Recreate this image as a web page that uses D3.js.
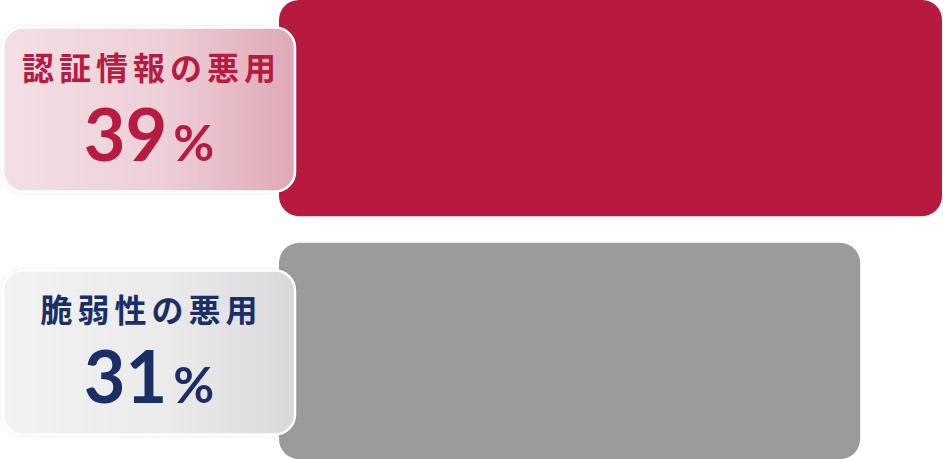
<!DOCTYPE html>
<html>
<head>
<meta charset="utf-8">
<script src="https://cdn.jsdelivr.net/npm/d3@7"></script>
<style>
	html, body { margin: 0; padding: 0; background: #fff; }
	svg { display: block; }
</style>
</head>
<body>
<div id="chart"></div>
<script>

// data
var categories= ["認証情報の悪用", "脆弱性の悪用"];
var values= [39, 31];
var value_labels= ["39", "31"];
var bar_colors= ["#b71a3e", "#9b9b9b"];
var text_colors= ["#b81a41", "#1b2e66"];
var box_grad= [["#f3e0e5", "#dfa8b6"], ["#f2f2f3", "#d9d9db"]];

function draw_chart() {

	var width= 943;
	var height= 459;

	var bar_left= 279;

	var svg= d3.select("#chart")
		.append("svg")
		.attr("width", width)
		.attr("height", height);

	var defs= svg.append("defs");

	box_grad.forEach(function(g, i) {
		var lg= defs.append("linearGradient")
			.attr("id", "grad" + i)
			.attr("x1", "0%").attr("x2", "100%")
			.attr("y1", "0%").attr("y2", "0%");
		lg.append("stop").attr("offset", "0%").attr("stop-color", g[0]);
		lg.append("stop").attr("offset", "55%").attr("stop-color", d3.interpolateRgb(g[0], g[1])(0.3));
		lg.append("stop").attr("offset", "100%").attr("stop-color", g[1]);
	});

	var shadow= defs.append("filter")
		.attr("id", "shadow")
		.attr("x", "-10%").attr("y", "-10%")
		.attr("width", "120%").attr("height", "120%");
	shadow.append("feDropShadow")
		.attr("dx", 0).attr("dy", 0)
		.attr("stdDeviation", 1.5)
		.attr("flood-color", "#000")
		.attr("flood-opacity", 0.12);

	// bars run from bar_left; the value scale puts 39 at the right edge
	var x= d3.scaleLinear()
		.domain([0, 39])
		.range([543, 942]);

	var y= d3.scaleBand()
		.domain(categories)
		.range([0, height])
		.paddingInner(0.11)
		.paddingOuter(0);

	svg.selectAll("rect.bar")
		.data(values)
		.enter()
		.append("rect")
			.attr("class", "bar")
			.attr("x", bar_left)
			.attr("y", function(d, i) { return y(categories[i]); })
			.attr("width", function(d) { return x(d)- bar_left; })
			.attr("height", y.bandwidth())
			.attr("rx", 20)
			.attr("fill", function(d, i) { return bar_colors[i]; });

	var box_w= 292;
	var box_h= 164;

	var label= svg.selectAll("g.label")
		.data(categories)
		.enter()
		.append("g")
			.attr("class", "label")
			.attr("transform", function(d) {
				return "translate(3," + (y(d)+ y.bandwidth()/ 2+ 1.5) + ")";
			});

	label.append("rect")
		.attr("x", 0)
		.attr("y", -box_h/ 2)
		.attr("width", box_w)
		.attr("height", box_h)
		.attr("rx", 20)
		.attr("fill", function(d, i) { return "url(#grad" + i + ")"; })
		.attr("stroke", "#fff")
		.attr("stroke-width", 2.5)
		.attr("filter", "url(#shadow)");

	label.append("text")
		.attr("x", box_w/ 2+ 2.5)
		.attr("y", -30)
		.attr("text-anchor", "middle")
		.style("font-family", "'Noto Sans CJK JP', sans-serif")
		.style("font-weight", 700)
		.style("font-size", "32px")
		.style("letter-spacing", "5px")
		.attr("fill", function(d, i) { return text_colors[i]; })
		.text(function(d) { return d; });

	var num= label.append("text")
		.attr("x", box_w/ 2)
		.attr("y", 51)
		.attr("text-anchor", "middle")
		.style("font-family", "Lato, sans-serif")
		.style("font-weight", 700)
		.attr("fill", function(d, i) { return text_colors[i]; });

	num.append("tspan")
		.style("font-size", "72px")
		.text(function(d, i) { return value_labels[i]; });

	num.append("tspan")
		.attr("dx", 6)
		.style("font-size", "50px")
		.text("%");
};

draw_chart();
</script>
</body>
</html>
